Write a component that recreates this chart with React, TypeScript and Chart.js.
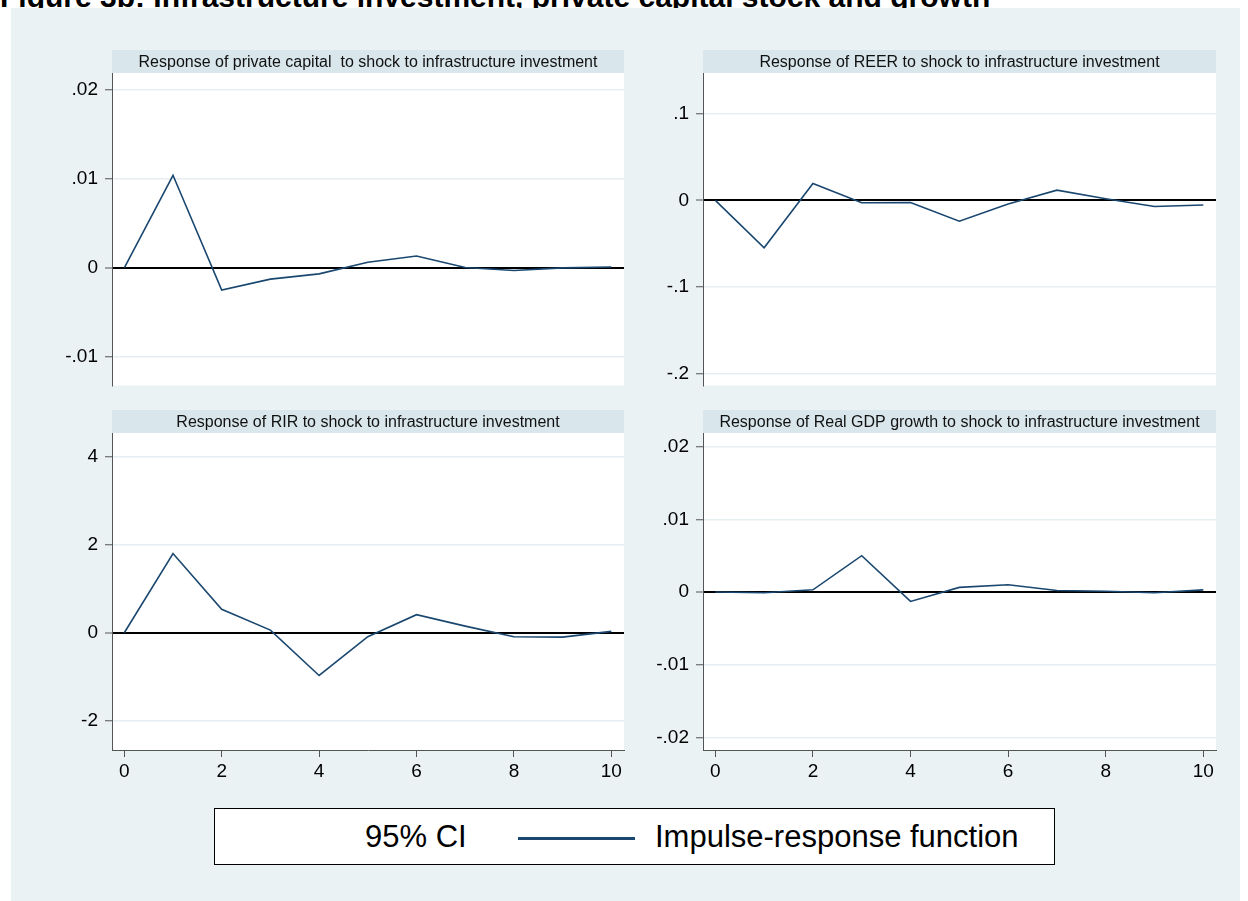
import React, { useEffect, useRef } from 'react';
import { Chart, registerables } from 'chart.js';

Chart.register(...registerables);

// ---------------- data ----------------
const steps = [0, 1, 2, 3, 4, 5, 6, 7, 8, 9, 10];

const privateCapital = [0, 0.0104, -0.0025, -0.00126, -0.00067, 0.00063, 0.00133, 0.00004, -0.0003, 0, 0.0001];
const reer = [0, -0.0546, 0.0195, -0.0027, -0.0023, -0.024, -0.004, 0.0118, 0.002, -0.0069, -0.0053];
const rir = [0, 1.795, 0.53, 0.06, -0.97, -0.09, 0.41, 0.15, -0.09, -0.1, 0.03];
const gdpGrowth = [0, -0.0001, 0.0003, 0.005, -0.0013, 0.00064, 0.001, 0.0002, 0.0001, -0.0001, 0.0003];

const panelTitles = [
  'Response of private capital  to shock to infrastructure investment',
  'Response of REER to shock to infrastructure investment',
  'Response of RIR to shock to infrastructure investment',
  'Response of Real GDP growth to shock to infrastructure investment',
];

const xTickValues = [0, 2, 4, 6, 8, 10];
const xTickLabels = ['0', '2', '4', '6', '8', '10'];

const pcTickValues = [-0.01, 0, 0.01, 0.02];
const pcTickLabels = ['-.01', '0', '.01', '.02'];
const reerTickValues = [-0.2, -0.1, 0, 0.1];
const reerTickLabels = ['-.2', '-.1', '0', '.1'];
const rirTickValues = [-2, 0, 2, 4];
const rirTickLabels = ['-2', '0', '2', '4'];
const gdpTickValues = [-0.02, -0.01, 0, 0.01, 0.02];
const gdpTickLabels = ['-.02', '-.01', '0', '.01', '.02'];

const legendLabels = ['95% CI', 'Impulse-response function'];
const figureTitle = 'Figure 3b: Infrastructure investment, private capital stock and growth';

// ---------------- styles ----------------
const FONT = '"Liberation Sans", Arial, Helvetica, sans-serif';
const NAVY = '#1a476f';
const PANEL_BG = '#EAF2F3';
const TITLE_BG = '#D9E6EB';
const GRID = '#E6EEF1';
const AXIS = '#555555';
const X_MIN = -0.2526;
const X_MAX = 10.26;

Chart.defaults.font.family = FONT;

type PanelCfg = {
  title: string;
  values: number[];
  yTicks: number[];
  yLabels: string[];
  yMin: number;
  yMax: number;
  showX: boolean;
  area: { l: number; t: number; r: number; b: number };
};

const panels: PanelCfg[] = [
  { title: panelTitles[0], values: privateCapital, yTicks: pcTickValues, yLabels: pcTickLabels, yMin: -0.01322, yMax: 0.02189, showX: false, area: { l: 112, t: 73, r: 624, b: 389 } },
  { title: panelTitles[1], values: reer, yTicks: reerTickValues, yLabels: reerTickLabels, yMin: -0.2133, yMax: 0.1468, showX: false, area: { l: 703, t: 73, r: 1216, b: 389 } },
  { title: panelTitles[2], values: rir, yTicks: rirTickValues, yLabels: rirTickLabels, yMin: -2.66, yMax: 4.53, showX: true, area: { l: 112, t: 433, r: 624, b: 750 } },
  { title: panelTitles[3], values: gdpGrowth, yTicks: gdpTickValues, yLabels: gdpTickLabels, yMin: -0.02175, yMax: 0.02189, showX: true, area: { l: 703, t: 433, r: 1216, b: 750 } },
];

const Y_AXIS_W = 70;
const PAD_TOP = 35;
const PAD_RIGHT = 12;
const PAD_BOTTOM_TOP = 15;
const X_AXIS_H = 40;

function Panel({ cfg }: { cfg: PanelCfg }) {
  const ref = useRef<HTMLCanvasElement | null>(null);
  const { l, t, r, b } = cfg.area;
  const left = l - Y_AXIS_W;
  const top = t - PAD_TOP;
  const width = r - l + Y_AXIS_W + PAD_RIGHT;
  const height = b - t + PAD_TOP + (cfg.showX ? X_AXIS_H : PAD_BOTTOM_TOP);

  useEffect(() => {
    if (!ref.current) return;
    const titlePlugin = {
      id: 'stataPanel',
      beforeDraw(chart: any) {
        const { ctx, chartArea: a } = chart;
        ctx.save();
        ctx.fillStyle = '#ffffff';
        ctx.fillRect(a.left, a.top, a.right - a.left, a.bottom - a.top);
        ctx.fillStyle = TITLE_BG;
        ctx.fillRect(a.left, a.top - 23, a.right - a.left, 23);
        ctx.fillStyle = '#111111';
        ctx.font = '16px ' + FONT;
        ctx.textAlign = 'center';
        ctx.textBaseline = 'alphabetic';
        ctx.fillText(cfg.title, (a.left + a.right) / 2, a.top - 6.5);
        ctx.restore();
      },
    };
    const chart = new Chart(ref.current, {
      type: 'line',
      data: {
        datasets: [
          {
            label: legendLabels[1],
            data: steps.map((s, i) => ({ x: s, y: cfg.values[i] })),
            borderColor: NAVY,
            borderWidth: 1.6,
            pointRadius: 0,
            tension: 0,
            fill: false,
          },
        ],
      },
      options: {
        animation: false,
        responsive: false,
        maintainAspectRatio: false,
        events: [],
        layout: { padding: { left: 0, top: PAD_TOP, right: PAD_RIGHT, bottom: cfg.showX ? 0 : PAD_BOTTOM_TOP } },
        plugins: { legend: { display: false }, tooltip: { enabled: false }, title: { display: false } },
        scales: {
          x: {
            type: 'linear',
            min: X_MIN,
            max: X_MAX,
            bounds: 'data',
            display: cfg.showX,
            afterBuildTicks: (s: any) => {
              s.ticks = xTickValues.map((v) => ({ value: v }));
            },
            afterFit: (s: any) => {
              s.height = cfg.showX ? X_AXIS_H : 0;
            },
            grid: { drawOnChartArea: false, drawTicks: true, tickLength: 7, tickColor: AXIS, tickWidth: 1 },
            border: { display: true, color: AXIS, width: 1 },
            ticks: {
              padding: 3,
              autoSkip: false,
              maxRotation: 0,
              color: '#000',
              font: { size: 19 },
              callback: (_v: any, i: number) => xTickLabels[i],
            },
          },
          y: {
            type: 'linear',
            min: cfg.yMin,
            max: cfg.yMax,
            bounds: 'data',
            afterBuildTicks: (s: any) => {
              s.ticks = cfg.yTicks.map((v) => ({ value: v }));
            },
            afterFit: (s: any) => {
              s.width = Y_AXIS_W;
            },
            grid: {
              color: (c: any) => (c.tick && c.tick.value === 0 ? '#000000' : GRID),
              lineWidth: (c: any) => (c.tick && c.tick.value === 0 ? 2 : 1.5),
              tickLength: 7,
              tickColor: AXIS,
              tickWidth: 1,
            },
            border: { display: true, color: AXIS, width: 1 },
            ticks: {
              padding: 7,
              autoSkip: false,
              color: '#000',
              font: { size: 19 },
              callback: (_v: any, i: number) => cfg.yLabels[i],
            },
          },
        },
      },
      plugins: [titlePlugin],
    } as any);
    return () => chart.destroy();
  }, [cfg]);

  return (
    <canvas
      ref={ref}
      width={width}
      height={height}
      style={{ position: 'absolute', left, top, width, height, zIndex: 2 }}
    />
  );
}

export default function App() {
  return (
    <div
      style={{
        position: 'absolute',
        left: 0,
        top: 0,
        width: 1248,
        height: 901,
        overflow: 'hidden',
        background: '#ffffff',
        fontFamily: FONT,
      }}
    >
      <div
        style={{
          position: 'absolute',
          left: 0,
          top: -18,
          fontSize: 30,
          lineHeight: '30px',
          fontWeight: 'bold',
          whiteSpace: 'nowrap',
          color: '#000',
          zIndex: 0,
        }}
      >
        {figureTitle}
      </div>
      <div
        style={{
          position: 'absolute',
          left: 11,
          top: 8,
          width: 1229,
          height: 893,
          background: PANEL_BG,
          zIndex: 1,
        }}
      />
      {panels.map((p, i) => (
        <Panel key={i} cfg={p} />
      ))}
      <div
        style={{
          position: 'absolute',
          left: 214,
          top: 808,
          width: 841,
          height: 57,
          boxSizing: 'border-box',
          border: '1px solid #000',
          background: '#fff',
          zIndex: 2,
        }}
      >
        <div
          style={{
            position: 'absolute',
            left: 150,
            top: 11,
            fontSize: 31,
            lineHeight: '34px',
            whiteSpace: 'nowrap',
            color: '#000',
          }}
        >
          {legendLabels[0]}
        </div>
        <div
          style={{
            position: 'absolute',
            left: 303,
            top: 28,
            width: 117,
            height: 3,
            background: NAVY,
          }}
        />
        <div
          style={{
            position: 'absolute',
            left: 440,
            top: 11,
            fontSize: 31,
            lineHeight: '34px',
            whiteSpace: 'nowrap',
            color: '#000',
          }}
        >
          {legendLabels[1]}
        </div>
      </div>
    </div>
  );
}
